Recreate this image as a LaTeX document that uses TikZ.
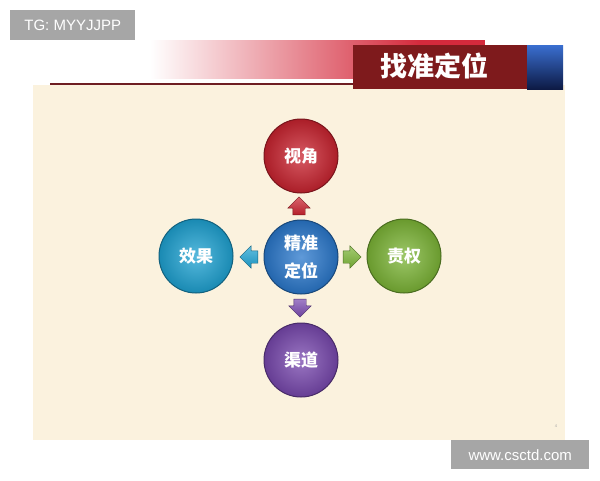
\documentclass[tikz,border=0pt]{standalone}
\usepackage{fontspec}
\setsansfont{Liberation Sans}
\newfontfamily\cjk{Noto Sans CJK SC}
\usetikzlibrary{shapes.arrows}
\definecolor{cream}{HTML}{FBF2DE}
\definecolor{banred}{HTML}{D42A3C}
\definecolor{titlered}{HTML}{7E1A1C}
\definecolor{linered}{HTML}{6E1E22}
\definecolor{wmgray}{HTML}{A6A6A6}
\definecolor{cred}{HTML}{C9232F}
\definecolor{cblue}{HTML}{2A78CC}
\definecolor{ccyan}{HTML}{1EA2D2}
\definecolor{cgreen}{HTML}{7CB536}
\definecolor{cpurple}{HTML}{7848AE}
\definecolor{stripblue}{HTML}{3A6FD0}
\definecolor{stripnavy}{HTML}{0D1A45}
\tikzset{
  ball/.style={circle, minimum size=74pt, inner sep=0pt, draw=#1!60!black, line width=1pt,
    inner color=#1!75!white, outer color=#1!85!black, text=white,
    font=\cjk\bfseries\fontsize{17}{20}\selectfont},
  barrow/.style={single arrow, single arrow head extend=5pt, minimum height=18pt,
    inner xsep=0pt, inner ysep=6pt, draw=#1!60!black, line width=0.4pt,
    top color=#1!70!white, bottom color=#1!90!black},
  varrow/.style={barrow=#1, inner xsep=6pt, inner ysep=0pt},
  wmark/.style={fill=wmgray, text=white, font=\sffamily\fontsize{15}{17}\selectfont,
    inner sep=0pt, anchor=north west}
}
\begin{document}
\begin{tikzpicture}[x=1pt,y=-1pt]
\useasboundingbox (0,0) rectangle (600,480);
\fill[white] (0,0) rectangle (600,480);
% slide
\fill[cream] (33,85) rectangle (565,440);
\shade[left color=white, right color=banred] (150,40) rectangle (420,78);
\fill[banred] (420,40) rectangle (485,78);
\fill[titlered] (353,45) rectangle (527,89);
\shade[top color=stripblue, bottom color=stripnavy] (527,45) rectangle (563,89);
\draw[linered, line width=1.5pt] (50,84) -- (353,84);
\node[text=white, font=\cjk\bfseries\fontsize{27}{30}\selectfont] (title) at (434,66) {找准定位};
% circles
\node[ball=cred] (top) at (301,156) {视角};
\node[ball=ccyan] (left) at (196,256) {效果};
\node[ball=cblue, align=center, font=\cjk\bfseries\fontsize{17}{28}\selectfont] (mid) at (301,257) {精准\\定位};
\node[ball=cgreen] (right) at (404,256) {责权};
\node[ball=cpurple] (bot) at (301,360) {渠道};
% arrows
\node[varrow=cred, shape border rotate=90] (aup) at (299,209) {};
\node[barrow=ccyan, shape border rotate=180] (aleft) at (252,257) {};
\node[barrow=cgreen] (aright) at (349,257) {};
\node[varrow=cpurple, shape border rotate=270] (adown) at (300,305) {};
% page number
\node[text=gray!70, font=\sffamily\fontsize{4}{5}\selectfont] (pg) at (556,426) {4};
% watermarks
\node[wmark, minimum width=125pt, minimum height=30pt] (wm1) at (10,10) {TG: MYYJJPP};
\node[wmark, minimum width=138pt, minimum height=29pt] (wm2) at (451,440) {www.csctd.com};
\end{tikzpicture}
\end{document}
